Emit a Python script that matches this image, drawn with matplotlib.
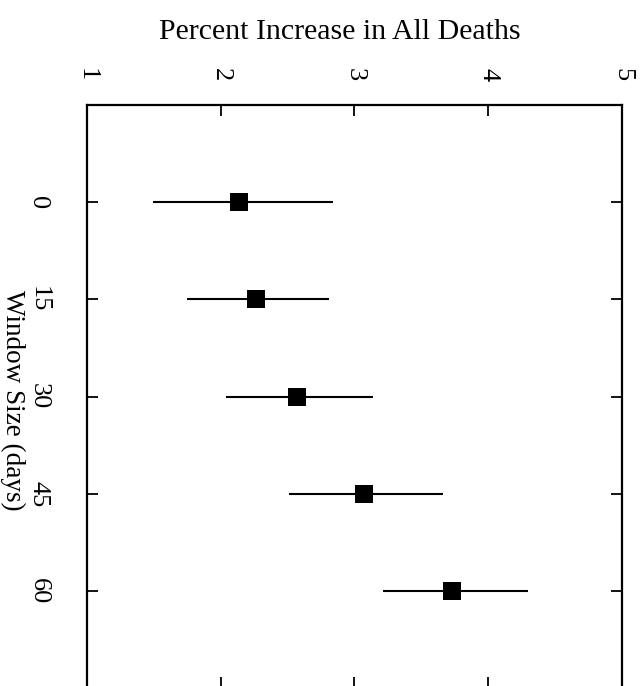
#!/usr/bin/env python3
"""Percent increase in all deaths vs window size, drawn sideways like the scan."""

import matplotlib
matplotlib.use("Agg")
import matplotlib.pyplot as plt

# ---------------------------------------------------------------------------
# Data
# ---------------------------------------------------------------------------
window_days = [0, 15, 30, 45, 60]
pct_increase = [2.14, 2.26, 2.57, 3.07, 3.73]
ci_low = [1.49, 1.75, 2.04, 2.51, 3.21]
ci_high = [2.84, 2.81, 3.14, 3.66, 4.30]

pct_ticks = [1, 2, 3, 4, 5]
window_ticks = [0, 15, 30, 45, 60]

plt.rcParams["font.family"] = ["Liberation Serif", "DejaVu Serif"]

fig = plt.figure(figsize=(6.43, 6.86), dpi=100)
ax = fig.add_axes([0.1353, -0.003, 0.832, 0.850])

err = [[p - lo for p, lo in zip(pct_increase, ci_low)],
       [hi - p for p, hi in zip(pct_increase, ci_high)]]
ax.errorbar(pct_increase, window_days, xerr=err, fmt="s", color="black",
            ecolor="black", elinewidth=1.5, capsize=0, markersize=13.5,
            markeredgewidth=0)

# Axes formatting ---------------------------------------------------------
ax.set_xlim(1, 5)
ax.set_ylim(75, -15)
ax.set_xticks(pct_ticks)
ax.set_yticks(window_ticks)
ax.set_xticklabels([str(t) for t in pct_ticks], rotation=-90)
ax.set_yticklabels([str(t) for t in window_ticks], rotation=-90, va="center")

ax.xaxis.tick_top()
ax.tick_params(axis="both", which="major", direction="in", length=8, width=1.3,
               labelsize=19, top=True, bottom=True, left=True, right=True)
ax.tick_params(axis="x", pad=17)
ax.tick_params(axis="y", pad=27)

for side in ax.spines.values():
    side.set_linewidth(1.6)

ax.set_xlabel("Percent Increase in All Deaths", fontsize=21.5)
ax.xaxis.set_label_position("top")
ax.xaxis.label.set(va="center", ha="center")
ax.xaxis.set_label_coords(0.473, 1.125)

ax.set_ylabel("Window Size (days)", fontsize=19.5, rotation=-90)
ax.yaxis.label.set(va="center", ha="center")
ax.yaxis.set_label_coords(-0.140, 0.494)

fig.savefig("out.png", dpi=100)
print("Saved plot --> out.png")
